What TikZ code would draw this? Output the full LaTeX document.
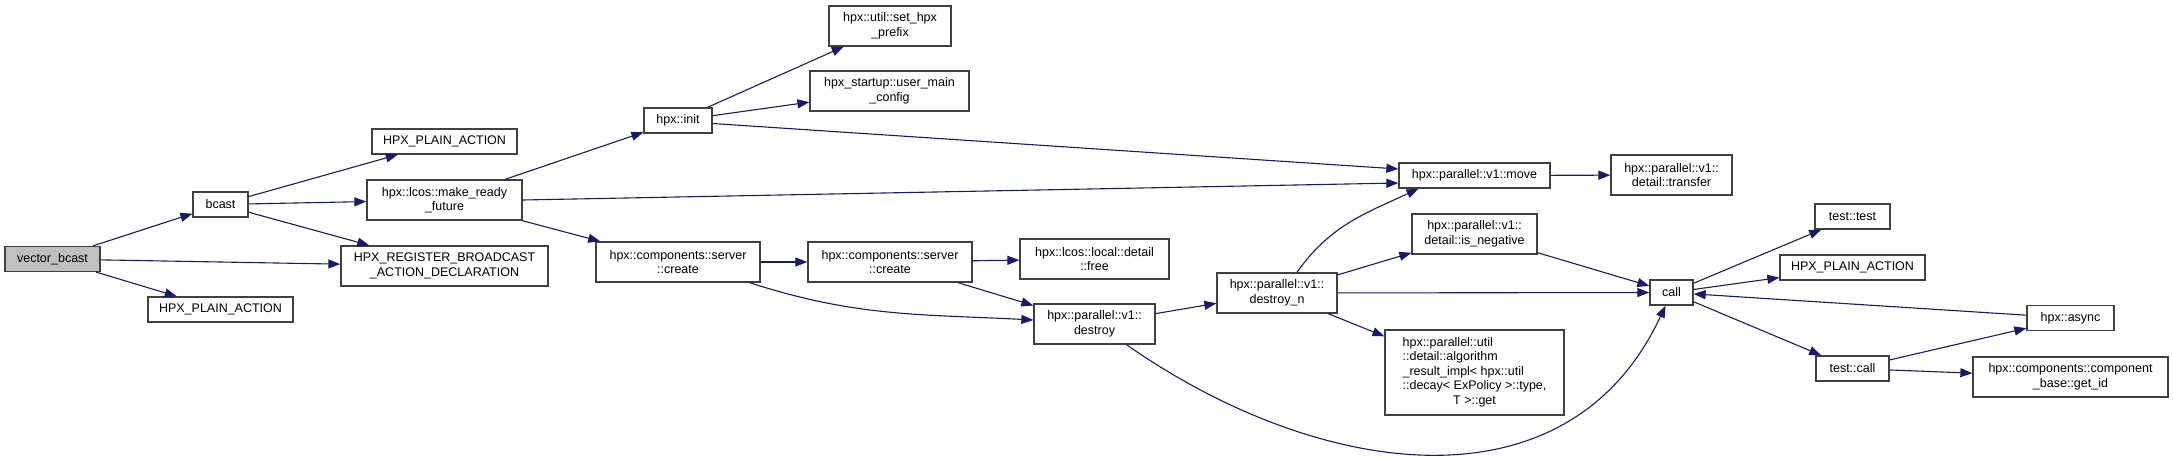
\documentclass[tikz,border=0pt]{standalone}
\usepackage{fontspec}
\setmainfont{Liberation Sans}
\usetikzlibrary{arrows.meta}
\definecolor{edgeblue}{HTML}{191970}
\definecolor{rootgray}{HTML}{BFBFBF}

\begin{document}
\begin{tikzpicture}[x=1pt, y=1pt,
	fn/.style={draw=black!75, line width=1.3pt, fill=white, inner sep=0pt, align=center,
		font=\fontsize{12.5}{14.5}\selectfont, minimum height=25pt},
	two/.style={minimum height=40pt},
	link/.style={draw=edgeblue, line width=1.1pt, -{Triangle[length=12pt, width=9pt, fill=edgeblue]}}]
	\useasboundingbox (0,0) rectangle (2173,-458);
	% callers on the left
	\node[fn, fill=rootgray, minimum width=95pt] (vb) at (52.5,-259) {vector\_bcast};
	\node[fn, minimum width=55pt] (bcast) at (220.5,-204.5) {bcast};
	\node[fn, minimum width=145pt] (plainB) at (220.5,-309.5) {HPX\_PLAIN\_ACTION};
	\node[fn, minimum width=145pt] (plainA) at (444.5,-141.5) {HPX\_PLAIN\_ACTION};
	\node[fn, two, minimum width=155pt] (mrf) at (444.5,-200) {hpx::lcos::make\_ready\\\_future};
	\node[fn, two, minimum width=207pt] (reg) at (444.5,-266) {HPX\_REGISTER\_BROADCAST\\\_ACTION\_DECLARATION};
	\node[fn, minimum width=68pt] (init) at (678,-120.5) {hpx::init};
	\node[fn, two, minimum width=122pt] (prefix) at (890,-26) {hpx::util::set\_hpx\\\_prefix};
	\node[fn, two, minimum width=159pt] (umc) at (889.5,-91) {hpx\_startup::user\_main\\\_config};
	\node[fn, two, minimum width=164pt] (create1) at (678,-262) {hpx::components::server\\::create};
	\node[fn, two, minimum width=164pt] (create2) at (890,-262) {hpx::components::server\\::create};
	\node[fn, two, minimum width=149pt] (free) at (1094.5,-259) {hpx::lcos::local::detail\\::free};
	\node[fn, two, minimum width=121pt] (destroy) at (1094.5,-324) {hpx::parallel::v1::\\destroy};
	% parallel algorithms
	\node[fn, two, minimum width=120pt] (destroyn) at (1277,-293) {hpx::parallel::v1::\\destroy\_n};
	\node[fn, minimum width=151pt] (move) at (1474.5,-175.5) {hpx::parallel::v1::move};
	\node[fn, two, minimum width=121pt] (transfer) at (1671.5,-175) {hpx::parallel::v1::\\detail::transfer};
	\node[fn, two, minimum width=125pt] (isneg) at (1474.5,-234) {hpx::parallel::v1::\\detail::is\_negative};
	\node[fn, minimum width=179pt, minimum height=85pt] (algo) at (1474.5,-372.5) {%
		\begin{tabular}{@{}l@{}}
			hpx::parallel::util\\
			::detail::algorithm\\
			\_result\_impl< hpx::util\\
			::decay< ExPolicy >::type,\\
			\multicolumn{1}{@{}c@{}}{T >::get}
		\end{tabular}};
	% test side
	\node[fn, minimum width=43pt] (call) at (1671.5,-292.5) {call};
	\node[fn, minimum width=75pt] (testtest) at (1852.5,-216.5) {test::test};
	\node[fn, minimum width=145pt] (plainC) at (1852.5,-267.5) {HPX\_PLAIN\_ACTION};
	\node[fn, minimum width=73pt] (testcall) at (1852.5,-368.5) {test::call};
	\node[fn, minimum width=87pt] (async) at (2070.5,-318) {hpx::async};
	\node[fn, two, minimum width=195pt] (getid) at (2070.5,-377) {hpx::components::component\\\_base::get\_id};
	% straight calls
	\foreach \a/\b in {vb/bcast, vb/reg, vb/plainB, bcast/plainA, bcast/mrf, bcast/reg,
		mrf/init, mrf/create1, init/prefix, init/umc, create1/create2, create2/free,
		create2/destroy, destroy/destroyn, destroyn/isneg, destroyn/call, destroyn/algo,
		isneg/call, move/transfer, call/testtest, call/plainC, call/testcall,
		async/call, testcall/async, testcall/getid}
		\draw[link] (\a) -- (\b);
	% long and curved calls
	\draw[link] (mrf.east) -- ([yshift=-7.5pt]move.west);
	\draw[link] ([yshift=-3pt]init.east) -- ([yshift=6.5pt]move.west);
	\draw[link] ([xshift=-11pt]create1.south east) to[out=-18, in=177] ([yshift=4pt]destroy.west);
	\draw[link] ([xshift=32pt]destroy.south) to[out=-35, in=-115, looseness=1.1] ([xshift=-6pt]call.south);
	\draw[link] ([xshift=20pt]destroyn.north) to[out=55, in=-155] ([xshift=-56pt]move.south);
\end{tikzpicture}
\end{document}
